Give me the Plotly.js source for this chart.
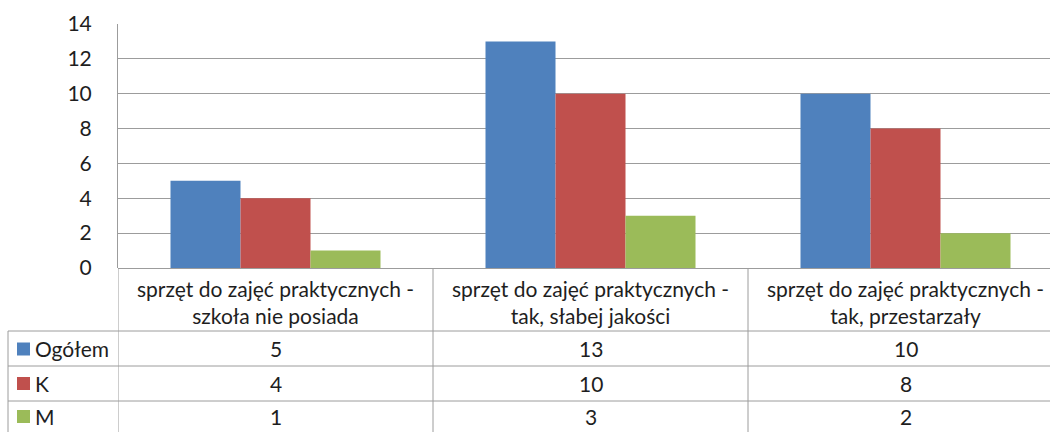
<!DOCTYPE html>
<html>
<head>
<meta charset="utf-8">
<script src="https://cdn.plot.ly/plotly-3.0.1.min.js"></script>
<style>html,body{margin:0;padding:0;background:#fff;}#chart{width:1050px;height:432px;}</style>
</head>
<body>
<div id="chart"></div>
<script>
// ---- data ----
const categories = ["A", "B", "C"];
const categoryLabels = [
  "sprzęt do zajęć praktycznych -<br>szkoła nie posiada",
  "sprzęt do zajęć praktycznych -<br>tak, słabej jakości",
  "sprzęt do zajęć praktycznych -<br>tak, przestarzały"
];
const seriesNames = ["Ogółem", "K", "M"];
const ogolem = [5, 13, 10];
const kobiety = [4, 10, 8];
const mezczyzni = [1, 3, 2];
const yTicks = [0, 2, 4, 6, 8, 10, 12, 14];

const seriesValues = [ogolem, kobiety, mezczyzni];
const colors = ["#4F81BD", "#C0504D", "#9BBB59"];

// ---- geometry helpers (layout only) ----
const W = 1050, H = 432;
const M = {l: 118, r: 0, t: 24, b: 164};
const plotH = H - M.t - M.b;
const plotW = W - M.l - M.r;
const py = p => (H - M.b - p) / plotH;   // pixel y -> paper y
const px = p => (p - M.l) / plotW;       // pixel x -> paper x

const FONT = "Lato, 'Open Sans', sans-serif";
const FS = 21;
const TXT = "#1e1e1e";
const LINE = "#9c9c9c";

const traces = seriesValues.map((vals, i) => ({
  type: "bar",
  name: seriesNames[i],
  x: categories,
  y: vals,
  marker: {color: colors[i], line: {width: 0}},
  hoverinfo: "skip"
}));

const shapes = [];
const annotations = [];

// table row boundaries (pixels)
const rowTop = 268, headerBottom = 331;
const rowLines = [331, 366, 401, 436];
const rowCenters = [349, 383.5, 416.5];

// horizontal lines
rowLines.forEach(r => shapes.push({type: "line", xref: "paper", yref: "paper",
  x0: px(8), x1: 1, y0: py(r), y1: py(r), line: {color: LINE, width: 1}}));
// vertical category separators (data coords on the x axis)
[-0.5, 0.5, 1.5, 2.5].forEach(xv => shapes.push({type: "line", xref: "x", yref: "paper",
  x0: xv, x1: xv, y0: 0, y1: py(H + 5), line: {color: LINE, width: 1}}));
// left border of legend column
shapes.push({type: "line", xref: "paper", yref: "paper", x0: px(8), x1: px(8),
  y0: py(headerBottom), y1: py(H + 5), line: {color: LINE, width: 1}});

// category labels
categories.forEach((c, i) => annotations.push({xref: "x", yref: "paper", x: c, y: py((rowTop + headerBottom) / 2 + 2),
  text: categoryLabels[i], showarrow: false, xanchor: "center", yanchor: "middle",
  font: {family: FONT, size: FS, color: TXT}, align: "center"}));

// legend keys + values
seriesNames.forEach((n, s) => {
  const cy = rowCenters[s];
  shapes.push({type: "rect", xref: "paper", yref: "paper", x0: px(17), x1: px(30),
    y0: py(cy + 6.5), y1: py(cy - 6.5), fillcolor: colors[s], line: {width: 0}});
  annotations.push({xref: "paper", yref: "paper", x: px(33), y: py(cy), text: n, showarrow: false,
    xanchor: "left", yanchor: "middle", font: {family: FONT, size: FS, color: TXT}});
  categories.forEach((c, i) => annotations.push({xref: "x", yref: "paper", x: c, y: py(cy),
    text: String(seriesValues[s][i]), showarrow: false, xanchor: "center", yanchor: "middle",
    font: {family: FONT, size: FS, color: TXT}}));
});

const layout = {
  width: W, height: H,
  margin: M,
  paper_bgcolor: "#fff", plot_bgcolor: "#fff",
  showlegend: false,
  barmode: "group", bargap: 1/3, bargroupgap: 0,
  font: {family: FONT, size: FS, color: TXT},
  xaxis: {type: "category", range: [-0.5, -0.5 + plotW / 315], showticklabels: false,
    showgrid: false, zeroline: false, showline: false, ticks: "", fixedrange: true},
  yaxis: {range: [0, 14], tickvals: yTicks, ticktext: yTicks.map(String), showgrid: true,
    gridcolor: LINE, gridwidth: 1, zeroline: true, zerolinecolor: LINE, zerolinewidth: 1,
    showline: true, linecolor: LINE, linewidth: 1, ticks: "", ticklabelstandoff: 21,
    tickfont: {family: FONT, size: FS, color: TXT}, fixedrange: true},
  shapes: shapes,
  annotations: annotations
};

Plotly.newPlot("chart", traces, layout, {displayModeBar: false, staticPlot: true});
</script>
</body>
</html>
